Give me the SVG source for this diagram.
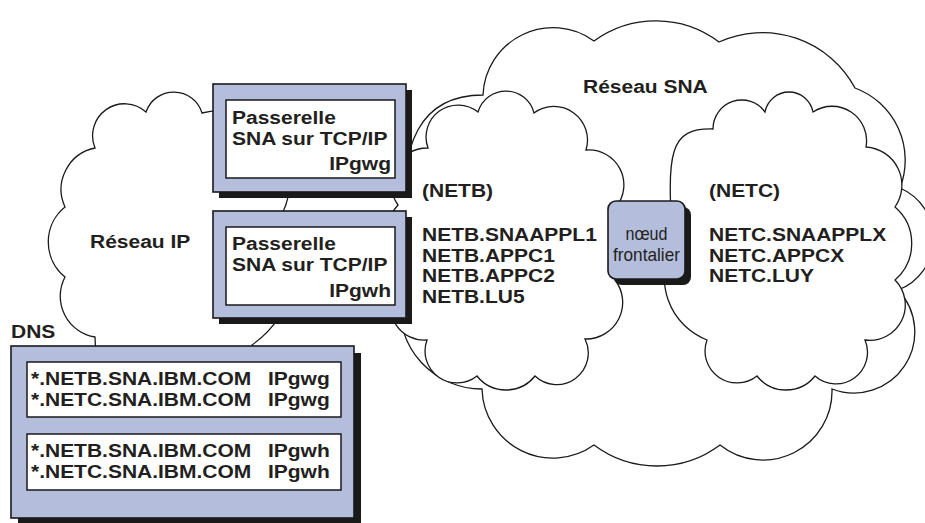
<svg xmlns="http://www.w3.org/2000/svg" width="925" height="523" viewBox="0 0 925 523">
<style>
.cloud{fill:#fff;stroke:#1a1a1a;stroke-width:1.3;stroke-linejoin:miter}
.box{fill:#b4bedc;stroke:#1a1a1a;stroke-width:1.6}
.shadow{fill:#1a1a1a}
.inner{fill:#fff;stroke:#1a1a1a;stroke-width:1.5}
.t{font-family:"Liberation Sans",Arial,Helvetica,sans-serif;font-weight:bold;font-size:18.5px;fill:#231f20}
.n{font-family:"Liberation Sans Narrow","Liberation Sans",Arial,sans-serif;font-size:19px;fill:#231f20}
</style>
<rect width="925" height="523" fill="#fff"/>

<g id="ip-network">
<path class="cloud" d="M 96,360 L 95,337 A 41.3 41.3 0 0 1 65,277 A 45 45 0 0 1 65,207 A 42.2 42.2 0 0 1 95,148 A 32 32 0 0 1 146,112 A 29.4 29.4 0 0 1 202,113 A 71 71 0 0 1 283,212 A 102.7 102.7 0 0 1 252,345 L 252,360 Z"/>
<g transform="translate(90 0) scale(1.135 1)"><text class="t" x="0" y="248">Réseau IP</text></g>
</g>

<g id="sna-network">
<path class="cloud" d="M 400,240 C 400,140 420,95 483,95 A 70 70 0 0 1 594,41 A 105 105 0 0 1 719,42 A 105 105 0 0 1 855,88 A 77 77 0 0 1 900,188 A 55 55 0 0 1 898,290 A 61 61 0 0 1 832,389 A 69 69 0 0 1 720,445 A 105 105 0 0 1 594,445 A 71 71 0 0 1 482,389 A 82 82 0 0 1 400,300 A 40 40 0 0 1 400,240 Z"/>
<g transform="translate(583 0) scale(1.135 1)"><text class="t" x="0" y="93">Réseau SNA</text></g>
</g>

<g id="netb">
<path class="cloud" d="M 398,205 A 36 36 0 0 1 428,148 A 32 32 0 0 1 478,112 A 29 29 0 0 1 534,113 A 33.6 33.6 0 0 1 586,150 A 35 35 0 0 1 616,207 A 48.6 48.6 0 0 1 615,280 A 36.6 36.6 0 0 1 585,339 A 31.6 31.6 0 0 1 535,376 A 37 37 0 0 1 477,376 A 32 32 0 0 1 427,340 A 33.5 33.5 0 0 1 395,290 A 67.7 67.7 0 0 1 398,205 Z"/>
<g transform="translate(422 0) scale(1.135 1)">
<text class="t" x="0" y="197">(NETB)</text>
<text class="t" x="0" y="241">NETB.SNAAPPL1</text>
<text class="t" x="0" y="261.7">NETB.APPC1</text>
<text class="t" x="0" y="282.4">NETB.APPC2</text>
<text class="t" x="0" y="303.1">NETB.LU5</text>
</g>
</g>

<g id="netc">
<path class="cloud" d="M 673,245 C 666,150 670,128 713,129 A 28.7 28.7 0 0 1 765,112 A 24.4 24.4 0 0 1 813,112 A 34.5 34.5 0 0 1 866,147 A 38.2 38.2 0 0 1 895,207 A 48.2 48.2 0 0 1 895,280 A 35.4 35.4 0 0 1 865,340 A 31.6 31.6 0 0 1 815,376 A 37 37 0 0 1 757,376 A 32 32 0 0 1 707,340 A 66.7 66.7 0 0 1 673,245 Z"/>
<g transform="translate(709 0) scale(1.135 1)">
<text class="t" x="0" y="197">(NETC)</text>
<text class="t" x="0" y="241">NETC.SNAAPPLX</text>
<text class="t" x="0" y="261.7">NETC.APPCX</text>
<text class="t" x="0" y="282.4">NETC.LUY</text>
</g>
</g>

<g id="connectors"></g>

<g id="gateway-ipgwg">
<rect class="shadow" x="219" y="90" width="193" height="108"/>
<rect class="box" x="213" y="84" width="193" height="108"/>
<rect class="inner" x="226" y="100" width="169" height="78"/>
<g transform="translate(232 0) scale(1.135 1)">
<text class="t" x="0" y="124">Passerelle</text>
<text class="t" x="0" y="144.7">SNA sur TCP/IP</text>
<text class="t" x="140.1" y="170.5" text-anchor="end">IPgwg</text>
</g>
</g>

<g id="gateway-ipgwh">
<rect class="shadow" x="219" y="217" width="193" height="107"/>
<rect class="box" x="213" y="211" width="193" height="107"/>
<rect class="inner" x="226" y="227" width="169" height="78"/>
<g transform="translate(232 0) scale(1.135 1)">
<text class="t" x="0" y="250.3">Passerelle</text>
<text class="t" x="0" y="271">SNA sur TCP/IP</text>
<text class="t" x="140.1" y="297" text-anchor="end">IPgwh</text>
</g>
</g>

<g id="dns">
<g transform="translate(11 0) scale(1.135 1)"><text class="t" x="0" y="338">DNS</text></g>
<rect class="shadow" x="18" y="353" width="343" height="172"/>
<rect class="box" x="11" y="346" width="343" height="172"/>
<rect class="inner" x="27" y="362" width="314" height="55"/>
<rect class="inner" x="27" y="434" width="314" height="56"/>
<g transform="translate(31 0) scale(1.135 1)">
<text class="t" y="385"><tspan x="0">*.NETB.SNA.IBM.COM</tspan><tspan x="208.8">IPgwg</tspan></text>
<text class="t" y="405.7"><tspan x="0">*.NETC.SNA.IBM.COM</tspan><tspan x="208.8">IPgwg</tspan></text>
<text class="t" y="457"><tspan x="0">*.NETB.SNA.IBM.COM</tspan><tspan x="208.8">IPgwh</tspan></text>
<text class="t" y="477.7"><tspan x="0">*.NETC.SNA.IBM.COM</tspan><tspan x="208.8">IPgwh</tspan></text>
</g>
</g>

<g id="boundary-node">
<rect class="shadow" x="614" y="207" width="77" height="78" rx="8"/>
<rect class="box" x="608" y="201" width="77" height="78" rx="8" stroke-width="2"/>
<text class="n" x="646.5" y="240" text-anchor="middle" textLength="42" lengthAdjust="spacingAndGlyphs">nœud</text>
<text class="n" x="646.5" y="261" text-anchor="middle" textLength="67" lengthAdjust="spacingAndGlyphs">frontalier</text>
</g>
</svg>
